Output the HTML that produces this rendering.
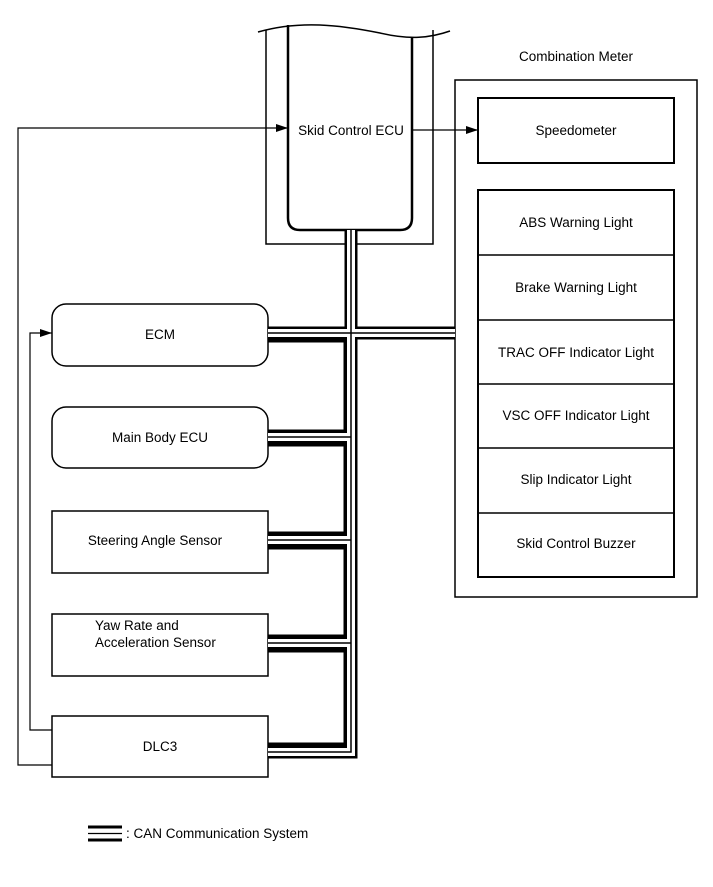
<!DOCTYPE html>
<html><head><style>
body{margin:0;background:#fff}
svg text{font-family:"Liberation Sans",Arial,sans-serif;font-size:13.5px;fill:#000}
</style></head><body>
<svg width="713" height="882" viewBox="0 0 713 882" xmlns="http://www.w3.org/2000/svg">
<defs><marker id="a" markerWidth="12" markerHeight="8" refX="12" refY="4" orient="auto" markerUnits="userSpaceOnUse"><path d="M0,0 L12,4 L0,8 z" fill="#000"/></marker></defs>
<g fill="none" stroke="#000">
<!-- Skid ECU -->
<path d="M266,30 V244 H433 V30" stroke-width="1.5"/>
<path d="M288,25 V218 Q288,230 300,230 H400 Q412,230 412,218 V37" stroke-width="2.5"/>
<path d="M258,32 C300,20 340,25 380,33 C410,40 430,38 450,31" stroke-width="1.5"/>
<!-- Combination meter -->
<rect x="455" y="80" width="242" height="517" stroke-width="1.5"/>
<rect x="478" y="98" width="196" height="65" stroke-width="2"/>
<rect x="478" y="190" width="196" height="387" stroke-width="2"/>
<path d="M478,255H674M478,320H674M478,384H674M478,448H674M478,513H674" stroke-width="1.5"/>
<!-- left boxes -->
<rect x="52" y="304" width="216" height="62" rx="14" stroke-width="1.5"/>
<rect x="52" y="407" width="216" height="61" rx="14" stroke-width="1.5"/>
<rect x="52" y="511" width="216" height="62" stroke-width="1.5"/>
<rect x="52" y="614" width="216" height="62" stroke-width="1.5"/>
<rect x="52" y="716" width="216" height="61" stroke-width="1.5"/>
<!-- arrows -->
<path d="M52,765 H18 V128 H288" stroke-width="1.2" marker-end="url(#a)"/>
<path d="M52,730 H30 V333 H52" stroke-width="1.2" marker-end="url(#a)"/>
<path d="M412,130 H478" stroke-width="1.2" marker-end="url(#a)"/>
<!-- CAN bus -->
<g stroke-linejoin="miter">
<path d="M351,230 V752 H268 M268,333 H455 M268,437 H351 M268,540 H351 M268,643 H351" stroke-width="13"/>
<path d="M351,230 V752 H268 M268,333 H455 M268,437 H351 M268,540 H351 M268,643 H351" stroke="#fff" stroke-width="8"/>
<path d="M351,230 V752 H268 M268,333 H455 M268,437 H351 M268,540 H351 M268,643 H351" stroke-width="1.5"/>
</g>
<path d="M268,341 H345 V431 H268 M268,445 H345 V533 H268 M268,548 H345 V636 H268 M268,651 H345 V744 H268" stroke-width="3"/>
<!-- legend -->
<path d="M88,827 H122 M88,840 H122" stroke-width="3"/>
<path d="M88,833.5 H122" stroke-width="1.2"/>
</g>
<text x="576" y="61" text-anchor="middle">Combination Meter</text>
<text x="351" y="135" text-anchor="middle">Skid Control ECU</text>
<text x="576" y="135" text-anchor="middle">Speedometer</text>
<text x="576" y="227" text-anchor="middle">ABS Warning Light</text>
<text x="576" y="292" text-anchor="middle">Brake Warning Light</text>
<text x="576" y="357" text-anchor="middle">TRAC OFF Indicator Light</text>
<text x="576" y="420" text-anchor="middle">VSC OFF Indicator Light</text>
<text x="576" y="484" text-anchor="middle">Slip Indicator Light</text>
<text x="576" y="548" text-anchor="middle">Skid Control Buzzer</text>
<text x="160" y="339" text-anchor="middle">ECM</text>
<text x="160" y="442" text-anchor="middle">Main Body ECU</text>
<text x="155" y="545" text-anchor="middle">Steering Angle Sensor</text>
<text x="95" y="630">Yaw Rate and</text>
<text x="95" y="647">Acceleration Sensor</text>
<text x="160" y="751" text-anchor="middle">DLC3</text>
<text x="126" y="838">: CAN Communication System</text>
</svg>
</body></html>
